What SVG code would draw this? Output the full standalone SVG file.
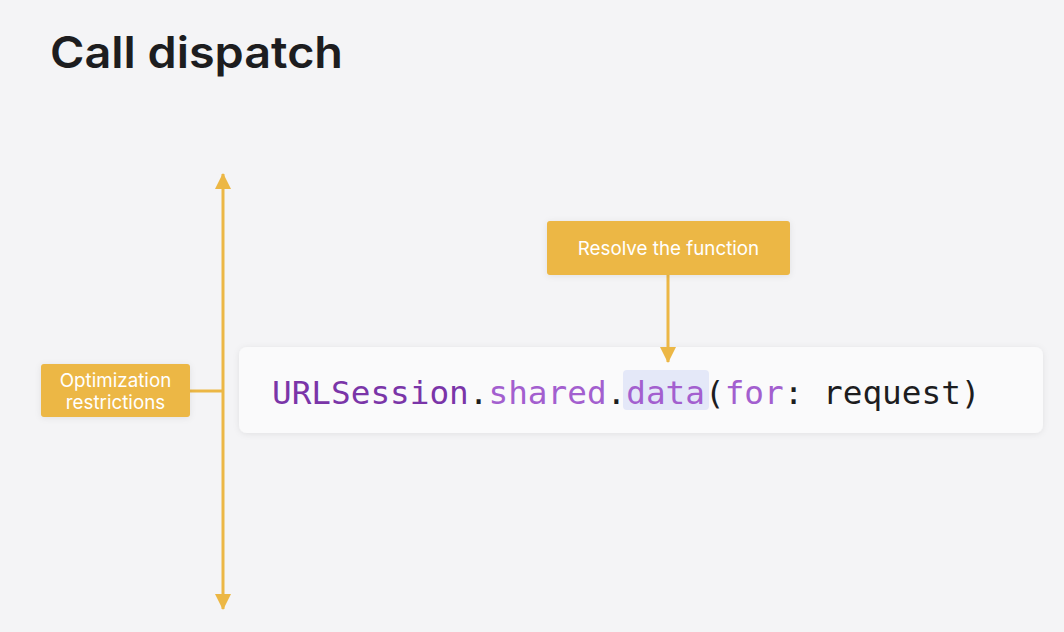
<svg xmlns="http://www.w3.org/2000/svg" width="1064" height="632" viewBox="0 0 1064 632">
<defs>
<style>
.lbl{fill:#ffffff;font-family:Inter,"Noto Sans",sans-serif;font-size:18.8px;text-anchor:middle}
.box{fill:#ecb745}
.ln{stroke:#ecb745;stroke-width:3;fill:none}
.code{font-family:"DejaVu Sans Mono","Liberation Mono",monospace;font-size:32.7px}
.k1{fill:#7a35a8}.k2{fill:#a35fcf}.pn{fill:#1d1d1f}
</style>
<marker id="ah" viewBox="0 0 16 16" refX="15" refY="8" markerWidth="16" markerHeight="16" markerUnits="userSpaceOnUse" orient="auto-start-reverse">
<path d="M0,0 L16,8 L0,16 z" fill="#ecb745"/>
</marker>
<filter id="sh" x="-10%" y="-30%" width="120%" height="160%">
<feDropShadow dx="0" dy="1" stdDeviation="3" flood-color="#000" flood-opacity="0.08"/>
</filter>
</defs>
<rect width="1064" height="632" fill="#f4f4f6"/>
<text x="50" y="68" font-family="Inter,'Liberation Sans',sans-serif" font-weight="600" font-size="44" fill="#1d1d1f" textLength="293" lengthAdjust="spacingAndGlyphs">Call dispatch</text>
<g id="code-card">
<rect x="239" y="347" width="804" height="86" rx="8" fill="#fafafb" filter="url(#sh)"/>
<rect x="623" y="370" width="86" height="40" rx="4" fill="#e4e8f8"/>
<text class="code" x="272" y="404"><tspan class="k1">URLSession</tspan><tspan class="pn">.</tspan><tspan class="k2">shared</tspan><tspan class="pn">.</tspan><tspan class="k2">data</tspan><tspan class="pn">(</tspan><tspan class="k2">for</tspan><tspan class="pn">: request)</tspan></text>
</g>
<g id="connectors">
<line class="ln" x1="223" y1="174" x2="223" y2="609" marker-start="url(#ah)" marker-end="url(#ah)"/>
<line class="ln" x1="190" y1="391" x2="223" y2="391"/>
<line class="ln" x1="668" y1="275" x2="668" y2="362" marker-end="url(#ah)"/>
</g>
<g id="optimization-restrictions">
<rect class="box" x="41" y="364" width="149" height="53" rx="3" filter="url(#sh)"/>
<text class="lbl" x="115.5" y="387">Optimization</text>
<text class="lbl" x="115.5" y="409">restrictions</text>
</g>
<g id="resolve-function">
<rect class="box" x="547" y="221" width="243" height="54" rx="3" filter="url(#sh)"/>
<text class="lbl" x="668.5" y="255">Resolve the function</text>
</g>
</svg>
